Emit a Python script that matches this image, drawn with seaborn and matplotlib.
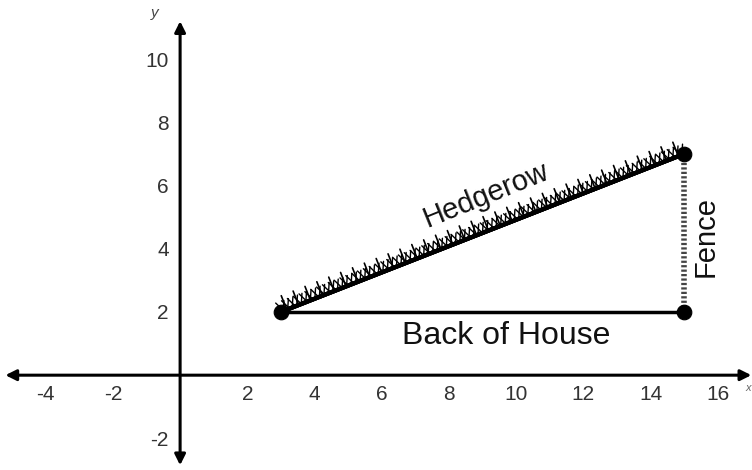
import matplotlib
matplotlib.use('Agg')
import matplotlib.pyplot as plt
import matplotlib.patheffects as pe
import seaborn as sns

sns.set_style("white")
plt.rcParams['font.family'] = ['Liberation Sans', 'DejaVu Sans']

# corners of the yard
corner_x = [3, 15, 15]
corner_y = [2, 7, 2]

# sides: (start, end)
hedgerow_x = [3, 15]
hedgerow_y = [2, 7]
fence_x = [15, 15]
fence_y = [7, 2]
house_x = [3, 15]
house_y = [2, 2]

x_ticks = [-4, -2, 2, 4, 6, 8, 10, 12, 14, 16]
y_ticks = [-2, 2, 4, 6, 8, 10]

fig = plt.figure(figsize=(7.52, 4.70), dpi=100)
ax = fig.add_axes([0, 0, 1, 1])
ax.set_xlim(-5.36, 17.02)
ax.set_ylim(-3.0, 11.87)

# axes through the origin, labels only
for side in ['top', 'right']:
    ax.spines[side].set_visible(False)
ax.spines['left'].set_position('zero')
ax.spines['bottom'].set_position('zero')
ax.spines['left'].set_color('none')
ax.spines['bottom'].set_color('none')
ax.set_xticks(x_ticks)
ax.set_yticks(y_ticks)
ax.set_xticklabels([str(t) for t in x_ticks])
ax.set_yticklabels([str(t) for t in y_ticks])
ax.tick_params(length=0, labelsize=15, colors='#333333')
ax.tick_params(axis='x', pad=7)
ax.tick_params(axis='y', pad=8)

# axis lines with arrowheads
ax.annotate('', xy=(17.0, 0), xytext=(-5.2, 0),
            arrowprops=dict(arrowstyle='<|-|>', lw=2.2, color='black', mutation_scale=16, shrinkA=0, shrinkB=0))
ax.annotate('', xy=(0, 11.2), xytext=(0, -2.85),
            arrowprops=dict(arrowstyle='<|-|>', lw=2.2, color='black', mutation_scale=16, shrinkA=0, shrinkB=0))
ax.text(16.98, -0.4, 'x', fontsize=8, style='italic', color='#666666', ha='right', va='center')
ax.text(-0.75, 11.45, 'y', fontsize=11, style='italic', color='#444444', ha='center', va='center')

# back of house
sns.lineplot(x=house_x, y=house_y, estimator=None, sort=False, color='black', lw=2.5, ax=ax)
# fence
sns.lineplot(x=fence_x, y=fence_y, estimator=None, sort=False, color='#444444', lw=4,
             linestyle=(0, (0.4, 0.4)), ax=ax)
# hedgerow with grass tufts
hedge = sns.lineplot(x=hedgerow_x, y=hedgerow_y, estimator=None, sort=False, color='black', lw=3, ax=ax)
hedge.lines[-1].set_path_effects([
    pe.withTickedStroke(angle=65, length=2.2, spacing=3.5, linewidth=1.0),
    pe.withTickedStroke(angle=115, length=1.8, spacing=4.5, linewidth=1.0),
    pe.withTickedStroke(angle=90, length=1.2, spacing=9, linewidth=1.2),
    pe.Normal(),
])

sns.scatterplot(x=corner_x, y=corner_y, color='black', s=110, edgecolor='black', zorder=5, ax=ax)

ax.text(9.1, 5.7, 'Hedgerow', fontsize=21, rotation=22, ha='center', va='center', color='#111111')
ax.text(15.65, 4.4, 'Fence', fontsize=21, rotation=90, ha='center', va='center', color='#111111')
ax.text(9.7, 1.25, 'Back of House', fontsize=23, ha='center', va='center', color='#111111')

fig.savefig('out.png', dpi=100)
